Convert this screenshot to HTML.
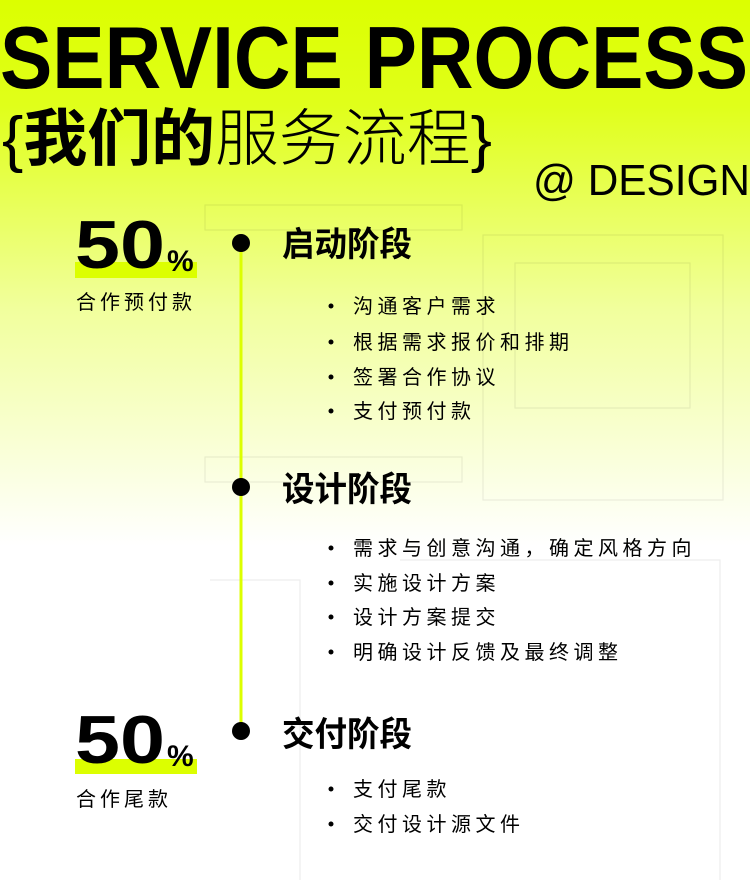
<!DOCTYPE html>
<html><head><meta charset="utf-8"><style>
html,body{margin:0;padding:0;width:750px;height:880px;overflow:hidden}
svg{display:block}
text{font-family:"Liberation Sans","Noto Sans CJK SC",sans-serif;fill:#000}
</style></head><body>
<svg width="750" height="880" viewBox="0 0 750 880" xmlns="http://www.w3.org/2000/svg">
<defs><linearGradient id="g" x1="0" y1="0" x2="0" y2="1">
<stop offset="0" stop-color="#dcff00"/><stop offset="0.12" stop-color="#e0ff1a"/><stop offset="0.35" stop-color="#f1ff9c"/><stop offset="0.62" stop-color="#ffffff"/><stop offset="1" stop-color="#ffffff"/></linearGradient></defs>
<rect width="750" height="880" fill="url(#g)"/>
<g fill="none" stroke="#000" stroke-opacity="0.07" stroke-width="1.2">
<rect x="205" y="205" width="257" height="25"/><rect x="205" y="457" width="257" height="25"/>
<rect x="483" y="235" width="240" height="265"/><rect x="515" y="263" width="175" height="145"/>
<path d="M210 580 L300 580 L300 880"/><path d="M400 560 L720 560 L720 880"/>
</g>
<text x="0" y="88" font-size="88" font-weight="bold" textLength="748" lengthAdjust="spacingAndGlyphs">SERVICE PROCESS</text>
<text x="2" y="160" font-size="62" textLength="490" lengthAdjust="spacingAndGlyphs"><tspan>{</tspan><tspan font-weight="bold">我们的</tspan><tspan font-weight="300">服务流程</tspan><tspan>}</tspan></text>
<text x="533" y="195" font-size="44" textLength="217" lengthAdjust="spacingAndGlyphs">@ DESIGN</text>
<rect x="75" y="262" width="122" height="16" fill="#dcff00"/>
<text x="75" y="268" font-size="68" font-weight="bold" textLength="90" lengthAdjust="spacingAndGlyphs">50</text>
<text x="167" y="271" font-size="30" font-weight="bold">%</text>
<text x="76" y="309" font-size="20" letter-spacing="4">合作预付款</text>
<rect x="75" y="759" width="122" height="15" fill="#dcff00"/>
<text x="75" y="763" font-size="68" font-weight="bold" textLength="90" lengthAdjust="spacingAndGlyphs">50</text>
<text x="167" y="766" font-size="30" font-weight="bold">%</text>
<text x="76" y="806" font-size="20" letter-spacing="4">合作尾款</text>
<line x1="241" y1="243" x2="241" y2="731" stroke="#dcff00" stroke-width="3"/>
<circle cx="241" cy="243" r="9"/><circle cx="241" cy="487" r="9"/><circle cx="241" cy="731" r="9"/>
<g font-size="34" font-weight="bold">
<text x="282" y="256" textLength="130" lengthAdjust="spacingAndGlyphs">启动阶段</text><text x="282" y="501" textLength="130" lengthAdjust="spacingAndGlyphs">设计阶段</text><text x="282" y="746" textLength="130" lengthAdjust="spacingAndGlyphs">交付阶段</text>
</g>
<g font-size="20" letter-spacing="4.5">
<text x="353" y="313">沟通客户需求</text>
<text x="353" y="349">根据需求报价和排期</text>
<text x="353" y="384">签署合作协议</text>
<text x="353" y="418">支付预付款</text>
<text x="353" y="555">需求与创意沟通，确定风格方向</text>
<text x="353" y="590">实施设计方案</text>
<text x="353" y="624">设计方案提交</text>
<text x="353" y="659">明确设计反馈及最终调整</text>
<text x="353" y="796">支付尾款</text>
<text x="353" y="831">交付设计源文件</text>
</g>
<g>
<circle cx="331" cy="306" r="2.5"/><circle cx="331" cy="342" r="2.5"/><circle cx="331" cy="377" r="2.5"/><circle cx="331" cy="411" r="2.5"/>
<circle cx="331" cy="548" r="2.5"/><circle cx="331" cy="583" r="2.5"/><circle cx="331" cy="617" r="2.5"/><circle cx="331" cy="652" r="2.5"/>
<circle cx="331" cy="789" r="2.5"/><circle cx="331" cy="824" r="2.5"/>
</g>
</svg>
</body></html>
